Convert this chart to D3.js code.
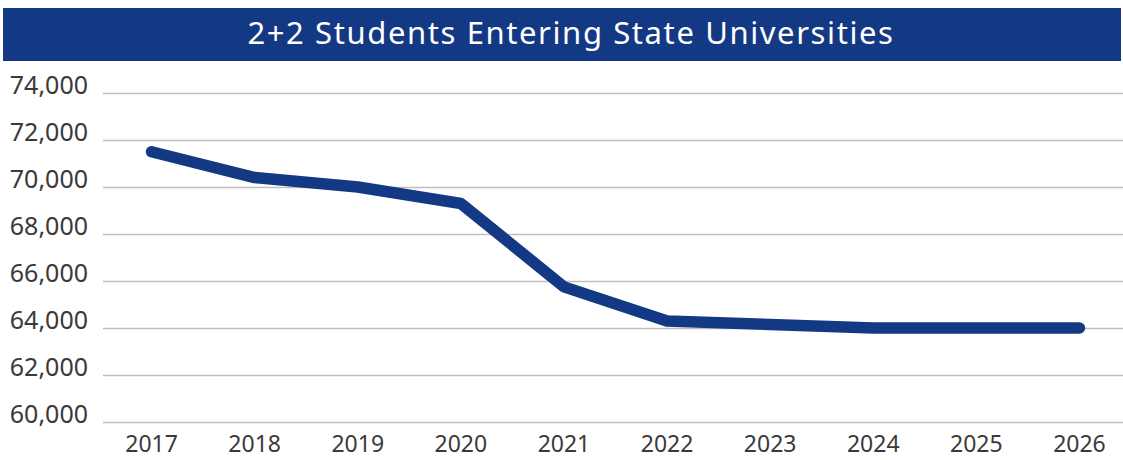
<!DOCTYPE html>
<html>
<head>
<meta charset="utf-8">
<script src="https://cdn.jsdelivr.net/npm/d3@7"></script>
<style>
  html, body { margin: 0; padding: 0; background: #ffffff; }
  svg { display: block; }
</style>
</head>
<body>
<svg id="chart" width="1123" height="460"></svg>
<script>
// Fall-semester counts of 2+2 transfer students entering state universities
const years = ["2017", "2018", "2019", "2020", "2021", "2022", "2023", "2024", "2025", "2026"];
const students = [71500, 70400, 70000, 69300, 65750, 64300, 64150, 64000, 64000, 64000];
const yTicks = [60000, 62000, 64000, 66000, 68000, 70000, 72000, 74000];

const title = "2+2 Students Entering State Universities";
const navy = "#143984";

const width = 1123, height = 460;
const margin = { top: 93, right: -8, bottom: 38, left: 100 };

const svg = d3.select("#chart");

// Title banner
svg.append("rect")
  .attr("x", 3).attr("y", 8)
  .attr("width", 1118).attr("height", 53)
  .attr("fill", navy);

svg.append("text")
  .attr("x", 571).attr("y", 44)
  .attr("text-anchor", "middle")
  .attr("fill", "#ffffff")
  .attr("font-family", "'Noto Sans', sans-serif")
  .attr("font-size", 31)
  .attr("letter-spacing", 1.6)
  .text(title);

const x = d3.scaleBand()
  .domain(years)
  .range([margin.left, width - margin.right]);

const y = d3.scaleLinear()
  .domain([60000, 74000])
  .range([height - margin.bottom, margin.top]);

// Horizontal gridlines with value labels
const yAxis = d3.axisLeft(y)
  .tickValues(yTicks)
  .tickFormat(d3.format(","))
  .tickSize(-(width - margin.left + 3))
  .tickPadding(12);

const gy = svg.append("g")
  .attr("transform", `translate(${margin.left + 3},0)`)
  .call(yAxis);
gy.select(".domain").remove();
gy.selectAll(".tick line")
  .attr("stroke", "#bfbfbf")
  .attr("stroke-width", 1.5);
gy.selectAll(".tick text")
  .attr("fill", "#3a3a3a")
  .attr("font-family", "'Noto Sans', sans-serif")
  .attr("font-size", 25)
  .attr("dy", "0")
  .attr("x", -15);

// Category labels along the bottom
const xAxis = d3.axisBottom(x).tickSize(0).tickPadding(0);
const gx = svg.append("g")
  .attr("transform", `translate(0,${y(60000)})`)
  .call(xAxis);
gx.select(".domain").remove();
gx.selectAll(".tick text")
  .attr("fill", "#3a3a3a")
  .attr("font-family", "'Noto Sans', sans-serif")
  .attr("font-size", 23)
  .attr("dy", "0")
  .attr("y", 30);

// Trend line
const line = d3.line()
  .x((d, i) => x(years[i]) + x.bandwidth() / 2)
  .y(d => y(d));

svg.append("path")
  .datum(students)
  .attr("d", line)
  .attr("fill", "none")
  .attr("stroke", navy)
  .attr("stroke-width", 11.5)
  .attr("stroke-linecap", "round")
  .attr("stroke-linejoin", "round");
</script>
</body>
</html>
